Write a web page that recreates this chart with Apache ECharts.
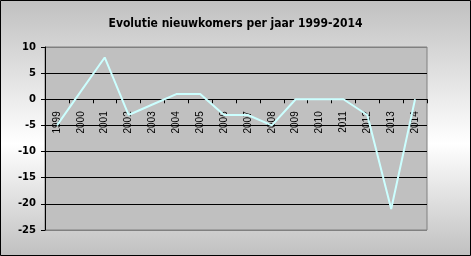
<!DOCTYPE html>
<html>
<head>
<meta charset="utf-8">
<script src="https://cdn.jsdelivr.net/npm/echarts@6/dist/echarts.min.js"></script>
<style>
html,body{margin:0;padding:0;background:#fff;}
#c{width:471px;height:256px;}
</style>
</head>
<body>
<div id="c"></div>
<script>
var titleText = 'Evolutie nieuwkomers per jaar 1999-2014';
var years = ['1999','2000','2001','2002','2003','2004','2005','2006','2007','2008','2009','2010','2011','2012','2013','2014'];
var values = [-5, 1.5, 8, -3, -1, 1, 1, -3, -3, -5, 0, 0, 0, -3, -21, 0];
var yMin = -25, yMax = 10, yStep = 5;

var gridTop = 47, gridBottom = 26, H = 256;
var plotH = H - gridTop - gridBottom;
var zeroOffset = -plotH * (0 - yMin) / (yMax - yMin);

var chart = echarts.init(document.getElementById('c'));
chart.setOption({
  animation: false,
  graphic: [
    {type:'rect', z:-10, silent:true, shape:{x:0,y:0,width:471,height:256},
     style:{fill:{type:'linear',x:0,y:0,x2:0,y2:1,colorStops:[
       {offset:0,color:'#c0c0c0'},{offset:0.56,color:'#ffffff'},{offset:1,color:'#c0c0c0'}]}}},
    {type:'rect', z:100, silent:true, shape:{x:0.5,y:0.5,width:470,height:255},
     style:{fill:'none',stroke:'#000',lineWidth:1}}
  ],
  title: {
    text: titleText, left: 'center', top: 13,
    textStyle: {fontFamily:'DejaVu Sans Condensed', fontWeight:'bold', fontSize:12, color:'#000'}
  },
  grid: {left:45, right:44, top:gridTop, bottom:gridBottom, outerBoundsMode:'none', containLabel:false,
         show:true, backgroundColor:'#c0c0c0', borderColor:'#808080', borderWidth:1},
  xAxis: {
    type:'category', data: years, boundaryGap:true, position:'bottom', offset: zeroOffset,
    axisLine:{onZero:false, lineStyle:{color:'#000',width:1}},
    axisTick:{show:true, length:4, lineStyle:{color:'#000'}},
    axisLabel:{rotate:90, margin:12, fontFamily:'Liberation Sans', fontSize:10, color:'#000', interval:0}
  },
  yAxis: {
    type:'value', min:yMin, max:yMax, interval:yStep,
    axisLine:{show:true, lineStyle:{color:'#000'}},
    axisTick:{show:true, length:4, lineStyle:{color:'#000'}},
    axisLabel:{fontFamily:'DejaVu Sans', fontWeight:'bold', fontSize:10, color:'#000', margin:9},
    splitLine:{show:true, lineStyle:{color:['#808080','#000','#000','#000','#000','#000','#000','#808080'], width:1}}
  },
  series: [{
    type:'line', data: values, showSymbol:false, symbol:'none',
    lineStyle:{color:'#ccffff', width:2}, z:10, zlevel:1
  }]
});
</script>
</body>
</html>
